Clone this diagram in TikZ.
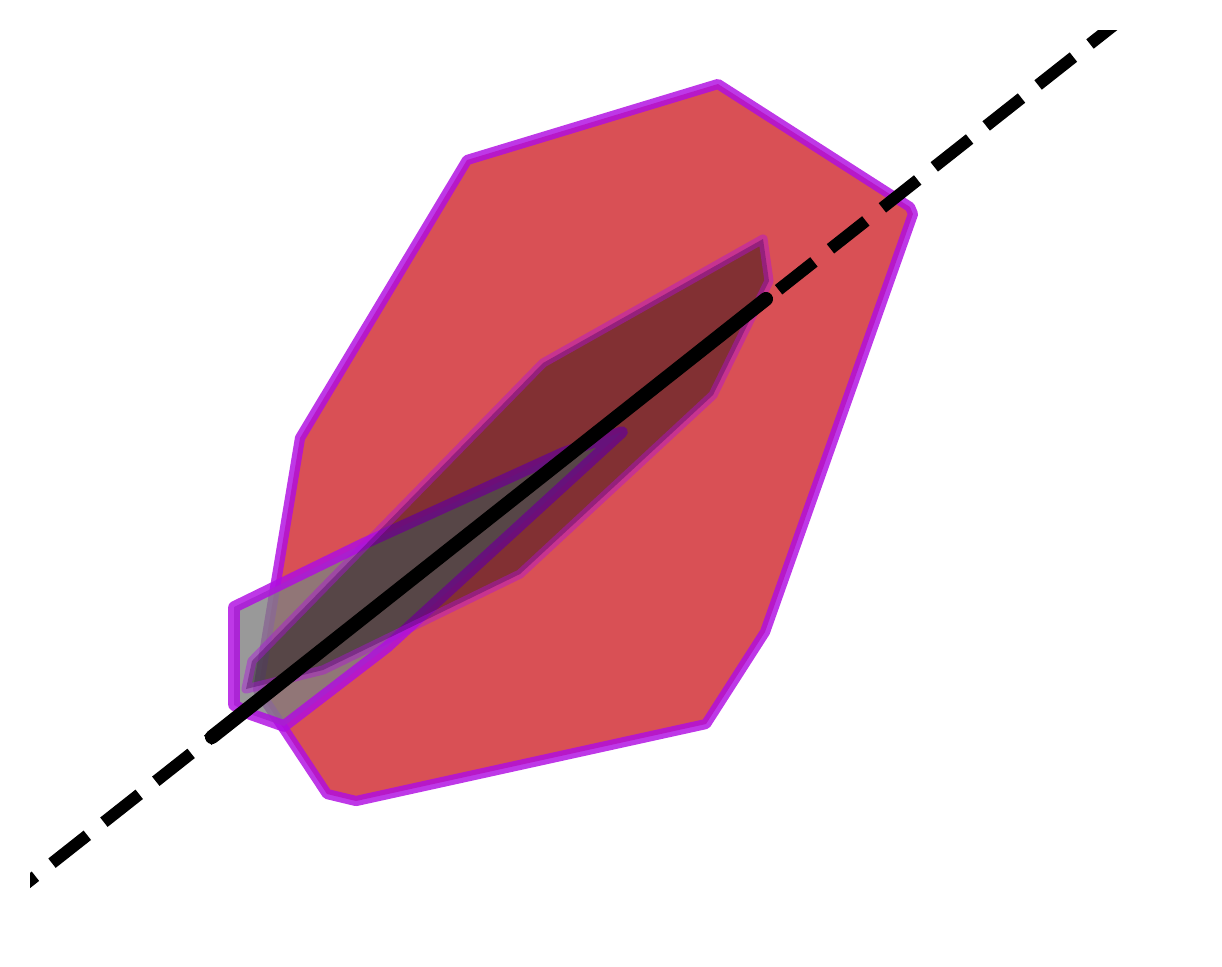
\documentclass[tikz,border=0pt]{standalone}
\usepackage{tikz}
\definecolor{hullred}{RGB}{217,80,85}
\definecolor{edgeviolet}{RGB}{176,12,226}
\definecolor{setgray}{RGB}{128,128,128}

\begin{document}
\begin{tikzpicture}[x=0.01cm, y=-0.01cm,
    hull/.style={draw=edgeviolet, draw opacity=0.82, line width=2.9pt, line join=round},
    grayhull/.style={hull, line width=3.3pt},
    innerhull/.style={draw=edgeviolet, draw opacity=0.42, line width=2.6pt, line join=round},
    refline/.style={line width=3.4pt, dash pattern=on 12.8pt off 6pt},
    segline/.style={line width=4pt, line cap=round}]
    \useasboundingbox (0,0) rectangle (1222,966);
    % outer set
    \draw[hull, fill=hullred] (467,160) -- (718,84) -- (910,207) -- (913,214) -- (765,632)
        -- (706,724) -- (356,801) -- (327,794) -- (284,729) -- (258,690) -- (300,438) -- cycle;
    % gray set
    \draw[grayhull, fill=setgray, fill opacity=0.8] (234,607) -- (363,544) -- (563,453) -- (622,432)
        -- (387,647) -- (284,726) -- (250,714) -- (234,705) -- cycle;
    % inner set
    \draw[innerhull, fill=black, fill opacity=0.4] (543,363) -- (763,239) -- (769,281) -- (713,395)
        -- (520,574) -- (323,670) -- (246,689) -- (252,661) -- cycle;
    % line through the sets
    \coordinate (segA) at (212,737);
    \coordinate (segB) at (766,299);
    \draw[segline] (segA) -- (segB);
    \coordinate (lineA) at (0.1,904.1);
    \coordinate (lineB) at (1147,-1);
    \begin{scope}
        \clip (30,30) rectangle (1192,936);
        \draw[refline] (lineA) -- (lineB);
    \end{scope}
\end{tikzpicture}
\end{document}
